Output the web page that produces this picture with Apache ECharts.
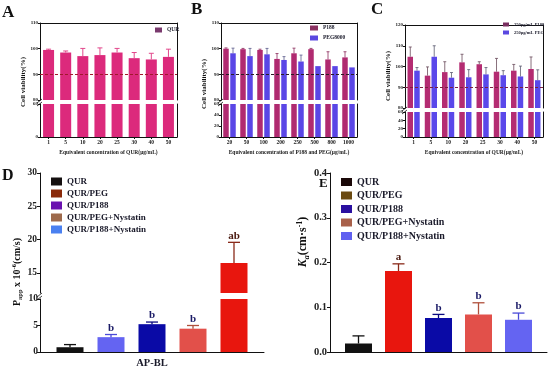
<!DOCTYPE html>
<html><head><meta charset="utf-8">
<script src="https://cdn.jsdelivr.net/npm/echarts@6/dist/echarts.min.js"></script>
<style>html,body{margin:0;padding:0;background:#fff}#c{width:550px;height:370px}</style>
</head><body><div id="c"></div>
<script>
// ---------- DATA ----------
const catsA = ['1','5','10','20','25','30','40','50'];
const qurA = [99.5, 98.5, 97.1, 97.5, 98.5, 96.3, 95.8, 96.8];
const qurAErr = [0.3, 0.6, 3.0, 2.8, 1.6, 2.2, 2.4, 3.0];

const catsB = ['20','50','100','200','250','500','800','1000'];
const p188B = [100, 99.8, 99.5, 96.0, 98.2, 99.8, 95.8, 96.6];
const p188BErr = [0.3, 0.3, 0.3, 2.1, 2.0, 0.3, 3.0, 2.2];
const pegB = [98.2, 97.1, 97.8, 95.6, 95.0, 93.2, 93.2, 92.7];
const pegBErr = [2.0, 3.0, 2.3, 1.3, 2.5, 0, 0, 0];

const catsC = ['1','5','10','20','25','30','40','50'];
const p188C = [104.7, 95.6, 97.3, 102.0, 101.1, 97.5, 98.0, 98.8];
const p188CErr = [4.7, 4.2, 5.0, 3.9, 1.2, 6.4, 3.0, 5.8];
const pegC = [98.0, 104.7, 94.6, 94.8, 96.2, 95.8, 95.2, 93.4];
const pegCErr = [1.5, 5.3, 2.5, 3.7, 3.3, 2.2, 5.0, 5.0];

const legendNames = ['QUR','QUR/PEG','QUR/P188','QUR/PEG+Nystatin','QUR/P188+Nystatin'];
const catD = ['AP-BL'];
const namesD = ['QUR','QUR/P188+Nystatin','QUR/P188','QUR/PEG+Nystatin','QUR/PEG'];
const valD = [0.9, 2.8, 5.25, 4.4, 16.5];
const errD = [0.5, 0.5, 0.4, 0.6, 3.1];
const sigD = ['', 'b', 'b', 'b', 'ab'];

const catE = [''];
const namesE = ['QUR','QUR/PEG','QUR/P188','QUR/PEG+Nystatin','QUR/P188+Nystatin'];
const valE = [0.019, 0.181, 0.076, 0.084, 0.072];
const errE = [0.017, 0.016, 0.008, 0.026, 0.015];
const sigE = ['', 'a', 'b', 'b', 'b'];

// ---------- STYLE / LAYOUT ----------
const FF = '"Liberation Serif","Times New Roman",serif';
const BK = '#111';
const colA = '#dc2a7c';
const colP = '#b02a70', colG = '#5a46e6';
const colD = {'QUR':'#111111','QUR/P188+Nystatin':'#6464f2','QUR/P188':'#0a0aa6','QUR/PEG+Nystatin':'#e2504a','QUR/PEG':'#e8160e'};
const errCol = {'QUR':'#111111','QUR/P188+Nystatin':'#4a4ad8','QUR/P188':'#0a0a80','QUR/PEG+Nystatin':'#b0503c','QUR/PEG':'#8a2a1a'};
const legCD = ['#151010','#8a2a0a','#6a12b0','#9e6a4c','#4a80f0'];
const legCE = ['#1a0808','#6a4a12','#2a10a0','#a8604a','#6060f0'];

const LY = {
  A:{l:40,r:177,t:23,b1:100,t2:104,b:137},
  B:{l:221,r:357,t:23,b1:100,t2:104,b:137},
  C:{l:405,r:543,t:25,b1:108,t2:112,b:137},
  D:{l:40,r:264,t:173,b1:293,t2:299,b:352},
  E:{l:330,r:547,t:173,b:352}
};
const g = (l,t,r,b) => ({left:l, top:t, width:r-l, height:b-t});
const grids = [
  g(LY.A.l,LY.A.t,LY.A.r,LY.A.b1), g(LY.A.l,LY.A.t2,LY.A.r,LY.A.b),
  g(LY.B.l,LY.B.t,LY.B.r,LY.B.b1), g(LY.B.l,LY.B.t2,LY.B.r,LY.B.b),
  g(LY.C.l,LY.C.t,LY.C.r,LY.C.b1), g(LY.C.l,LY.C.t2,LY.C.r,LY.C.b),
  g(LY.D.l,LY.D.t,LY.D.r,LY.D.b1), g(LY.D.l,LY.D.t2,LY.D.r,LY.D.b),
  g(LY.E.l,LY.E.t,LY.E.r,LY.E.b)
];

const line = {show:true, onZero:false, lineStyle:{color:BK, width:1}};
function topX(gi, cats){ return {type:'category', gridIndex:gi, position:'top', data:cats, axisLine:line, axisTick:{show:false}, axisLabel:{show:false}, splitLine:{show:false}}; }
function botX(gi, cats, name){ return {type:'category', gridIndex:gi, position:'bottom', data:cats, axisLine:line,
  axisTick:{show:true, alignWithLabel:true, length:2, lineStyle:{color:BK}},
  axisLabel:{fontFamily:FF, fontWeight:'bold', fontSize:5.5, color:'#222', margin:3},
  name:name, nameLocation:'middle', nameGap:13, nameTextStyle:{fontFamily:FF, fontWeight:'bold', fontSize:5.5, color:'#222'}}; }
function leftY(gi, min, max, interval, fs, extra){ return Object.assign({type:'value', gridIndex:gi, position:'left', min, max, interval,
  axisLine:line, axisTick:{show:true, length:fs>6?3:2, lineStyle:{color:BK}}, splitLine:{show:false},
  axisLabel:{fontFamily:FF, fontWeight:'bold', fontSize:fs, color:'#222', margin:2}}, extra||{}); }
function rightY(gi){ return {type:'value', gridIndex:gi, position:'right', axisLine:line, axisTick:{show:false}, axisLabel:{show:false}, splitLine:{show:false}}; }

const xAxis = [
  topX(0,catsA), botX(1,catsA,'Equivalent concentration of QUR(μg/mL)'),
  topX(2,catsB), botX(3,catsB,'Equivalent concentration of P188 and PEG(μg/mL)'),
  topX(4,catsC), botX(5,catsC,'Equivalent concentration of QUR(μg/mL)'),
  {type:'category', gridIndex:6, data:catD, show:false},
  {type:'category', gridIndex:7, data:catD, axisLine:line, axisTick:{show:false},
    axisLabel:{fontFamily:FF, fontWeight:'bold', fontSize:10.5, color:'#1a1a2a', margin:6}},
  {type:'category', gridIndex:8, data:catE, axisLine:line, axisTick:{show:false}, axisLabel:{show:false}}
];
const yAxis = [
  leftY(0,80,110,10,5), rightY(0), leftY(1,0,60,60,5), rightY(1),
  leftY(2,80,110,10,5), rightY(2), leftY(3,0,60,20,5), rightY(3),
  leftY(4,80,120,10,5), rightY(4), leftY(5,0,60,20,5), rightY(5),
  leftY(6,12,30,undefined,9.5,{splitNumber:4, axisLabel:{fontFamily:FF, fontWeight:'bold', fontSize:9.5, color:'#222', margin:3, showMinLabel:false}}),
  leftY(7,0,10,5,9.5),
  leftY(8,0,0.4,0.1,10.5,{axisLabel:{fontFamily:FF, fontWeight:'bold', fontSize:10.5, color:'#222', margin:3, formatter:v=>v.toFixed(1)}})
];

// error bars (upward whiskers) + significance letters
function errSeries(xi, yi, rows, cfg){
  return {type:'custom', xAxisIndex:xi, yAxisIndex:yi, clip:true, silent:true, z:5,
    data: rows,
    renderItem: function(params, api){
      const c = api.value(0), v = api.value(1), e = api.value(2), k = api.value(3);
      const p = api.coord([c, v]), q = api.coord([c, v + e]);
      const x = p[0] + (k - (cfg.n - 1) / 2) * cfg.step;
      const col = cfg.colors[k];
      const ch = [];
      if (e > 0) {
        ch.push({type:'line', shape:{x1:x, y1:p[1], x2:x, y2:q[1]}, style:{stroke:col, lineWidth:cfg.lw}});
        ch.push({type:'line', shape:{x1:x-cfg.cap, y1:q[1], x2:x+cfg.cap, y2:q[1]}, style:{stroke:col, lineWidth:cfg.lw}});
      }
      const lab = cfg.labels ? cfg.labels[params.dataIndex] : '';
      if (lab) ch.push({type:'text', style:{text:lab, x:x, y:q[1]-1, align:'center', verticalAlign:'bottom',
        font:'bold ' + cfg.lf + 'px ' + FF, fill: lab === 'b' ? '#1a1a66' : '#4a1a10'}});
      return {type:'group', children:ch};
    }};
}
const dashed = (color) => ({symbol:'none', silent:true, label:{show:false}, data:[{yAxis:90}],
  lineStyle:{type:[3,2], color:color, width:1}});

const series = [];
// Panel A
series.push({type:'bar', name:'QUR', xAxisIndex:0, yAxisIndex:0, data:qurA, barWidth:11, itemStyle:{color:colA}, markLine:dashed('#a0182c')});
series.push({type:'bar', name:'QUR', xAxisIndex:1, yAxisIndex:2, data:qurA, barWidth:11, itemStyle:{color:colA}});
series.push(errSeries(0,0, qurA.map((v,i)=>[i,v,qurAErr[i],0]), {n:1, step:0, colors:['#e2488c'], lw:1, cap:2.5}));
// Panel B
const wB = 5.5, gB = 1.5;
[[2,4],[3,6]].forEach(([xi,yi],j)=>{
  series.push({type:'bar', name:'P188', xAxisIndex:xi, yAxisIndex:yi, data:p188B, barWidth:wB, barGap:(gB/wB*100)+'%', itemStyle:{color:colP}, markLine: j===0 ? dashed('#2a1a22') : undefined});
  series.push({type:'bar', name:'PEG8000', xAxisIndex:xi, yAxisIndex:yi, data:pegB, barWidth:wB, barGap:(gB/wB*100)+'%', itemStyle:{color:colG}});
});
series.push(errSeries(2,4, p188B.map((v,i)=>[i,v,p188BErr[i],0]).concat(pegB.map((v,i)=>[i,v,pegBErr[i],1])), {n:2, step:wB+gB, colors:['#8a2a5a','#5a5a8a'], lw:0.8, cap:1.5}));
// Panel C
const wC = 5.5, gC = 1.2;
[[4,8],[5,10]].forEach(([xi,yi],j)=>{
  series.push({type:'bar', name:'250μg/mL P188', xAxisIndex:xi, yAxisIndex:yi, data:p188C, barWidth:wC, barGap:(gC/wC*100)+'%', itemStyle:{color:'#b42c72'}, markLine: j===0 ? dashed('#7a2040') : undefined});
  series.push({type:'bar', name:'250μg/mL PEG', xAxisIndex:xi, yAxisIndex:yi, data:pegC, barWidth:wC, barGap:(gC/wC*100)+'%', itemStyle:{color:'#5a48ea'}});
});
series.push(errSeries(4,8, p188C.map((v,i)=>[i,v,p188CErr[i],0]).concat(pegC.map((v,i)=>[i,v,pegCErr[i],1])), {n:2, step:wC+gC, colors:['#6a4a5a','#5a5a70'], lw:0.8, cap:1.5}));
// Panel D
const wD = 27, gD = 14;
[[6,12],[7,13]].forEach(([xi,yi])=>{
  namesD.forEach((nm,k)=>{
    series.push({type:'bar', name:nm, xAxisIndex:xi, yAxisIndex:yi, data:[valD[k]], barWidth:wD, barGap:(gD/wD*100)+'%', itemStyle:{color:colD[nm]}});
  });
  series.push(errSeries(xi,yi, valD.map((v,k)=>[0,v,errD[k],k]), {n:5, step:wD+gD, colors:namesD.map(n=>errCol[n]), lw:1.3, cap:6, labels:sigD, lf:11}));
});
// Panel E
const wE = 27, gE = 13;
namesE.forEach((nm,k)=>{
  series.push({type:'bar', name:nm, xAxisIndex:8, yAxisIndex:14, data:[valE[k]], barWidth:wE, barGap:(gE/wE*100)+'%', itemStyle:{color:colD[nm]}});
});
series.push(errSeries(8,14, valE.map((v,k)=>[0,v,errE[k],k]), {n:5, step:wE+gE, colors:namesE.map(n=>errCol[n]), lw:1.3, cap:6, labels:sigE, lf:11}));

const legText = (fs) => ({fontFamily:FF, fontWeight:'bold', fontSize:fs, color:'#1a1a2a'});
const legend = [
  {left:155, top:27, orient:'vertical', icon:'rect', itemWidth:7, itemHeight:5, itemGap:3, padding:0, selectedMode:false, textStyle:legText(5.5),
    data:[{name:'QUR', itemStyle:{color:'#7a3a6e'}}]},
  {left:310, top:25, orient:'vertical', icon:'rect', itemWidth:8, itemHeight:5, itemGap:4, padding:0, selectedMode:false, textStyle:legText(5.5),
    data:[{name:'P188', itemStyle:{color:'#8a3060'}}, {name:'PEG8000', itemStyle:{color:'#5a48e0'}}]},
  {left:503, top:22, orient:'vertical', icon:'rect', itemWidth:6, itemHeight:4, itemGap:3, padding:0, selectedMode:false, textStyle:legText(4.5),
    data:[{name:'250μg/mL P188', itemStyle:{color:'#7a3060'}}, {name:'250μg/mL PEG', itemStyle:{color:'#5a48e0'}}]},
  {left:51, top:177, orient:'vertical', icon:'rect', itemWidth:11, itemHeight:8, itemGap:3, padding:0, selectedMode:false, textStyle:legText(9),
    data:legendNames.map((n,i)=>({name:n, itemStyle:{color:legCD[i]}}))},
  {left:341, top:177, orient:'vertical', icon:'rect', itemWidth:11, itemHeight:8, itemGap:3.5, padding:0, selectedMode:false, textStyle:legText(10),
    data:legendNames.map((n,i)=>({name:n, itemStyle:{color:legCE[i]}}))}
];

const letter = (t,l,tp,fs) => ({text:t, left:l, top:tp, padding:0, textStyle:{fontFamily:FF, fontWeight:'bold', fontSize:fs, color:'#111'}});
const title = [letter('A',2,4,17), letter('B',191,1,17), letter('C',371,1,17), letter('D',2,168,16), letter('E',319,177,13)];

const vtext = (x,y,style) => ({type:'text', x, y, rotation:Math.PI/2, silent:true, style:Object.assign({align:'center', verticalAlign:'middle', fill:'#111'}, style)});
const brk = (x,y) => ({type:'group', silent:true, children:[
  {type:'line', shape:{x1:x-3, y1:y+1, x2:x+2, y2:y-3}, style:{stroke:BK, lineWidth:0.8}},
  {type:'line', shape:{x1:x-3, y1:y+4, x2:x+2, y2:y}, style:{stroke:BK, lineWidth:0.8}}]});
const graphic = [
  vtext(23, 82, {text:'Cell viability(%)', font:'bold 7px '+FF}),
  vtext(204, 84, {text:'Cell viability(%)', font:'bold 7px '+FF}),
  vtext(388, 76, {text:'Cell viability(%)', font:'bold 7px '+FF}),
  vtext(17, 272, {text:'{n|P}{s|app}{n| x 10}{p|-6}{n|(cm/s)}', rich:{
    n:{font:'bold 10px '+FF, fill:'#111', lineHeight:13, verticalAlign:'middle'},
    s:{font:'bold 6.5px '+FF, fill:'#111', lineHeight:13, verticalAlign:'bottom'},
    p:{font:'bold 6.5px '+FF, fill:'#111', lineHeight:13, verticalAlign:'top'}}}),
  vtext(303, 242, {text:'{k|K}{s|a}{n|(cm·s}{p|-1}{n|)}', rich:{
    k:{font:'italic bold 12px '+FF, fill:'#111', lineHeight:15, verticalAlign:'middle'},
    n:{font:'bold 12px '+FF, fill:'#111', lineHeight:15, verticalAlign:'middle'},
    s:{font:'italic bold 8px '+FF, fill:'#111', lineHeight:15, verticalAlign:'bottom'},
    p:{font:'bold 8px '+FF, fill:'#111', lineHeight:15, verticalAlign:'top'}}}),
  brk(LY.A.l, (LY.A.b1+LY.A.t2)/2), brk(LY.B.l, (LY.B.b1+LY.B.t2)/2), brk(LY.C.l, (LY.C.b1+LY.C.t2)/2), brk(LY.D.l, (LY.D.b1+LY.D.t2)/2)
];

const chart = echarts.init(document.getElementById('c'), null, {renderer:'canvas'});
chart.setOption({animation:false, backgroundColor:'#fff', title, legend, grid:grids, xAxis, yAxis, series, graphic, tooltip:{show:false}});
</script></body></html>
